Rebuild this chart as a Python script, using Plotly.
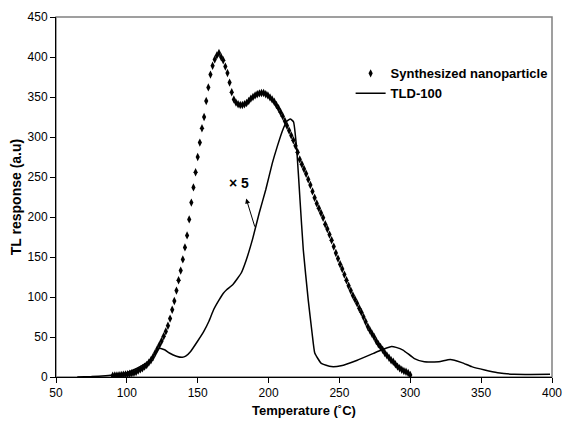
import plotly.graph_objects as go

# ---- data ----
nano_x = [90, 91.5, 93, 94.5, 96, 97.5, 99, 100.5, 102, 103.5, 105, 106.5, 108, 109.5, 111, 112.5,
          114, 115.5, 117, 118.5, 120, 121.5, 123, 124.5, 126, 127.5, 129, 130.5, 132, 133.5, 135,
          136.5, 138, 139.5, 141, 142.5, 144, 145.5, 147, 148.5, 150, 151.5, 153, 154.5, 156, 157.5,
          159, 160.5, 162, 163.5, 165, 166.5, 168, 169.5, 171, 172.5, 174, 175.5, 177, 178.5, 180,
          181.5, 183, 184.5, 186, 187.5, 189, 190.5, 192, 193.5, 195, 196.5, 198, 199.5, 201, 202.5,
          204, 205.5, 207, 208.5, 210, 211.5, 213, 214.5, 216, 217.5, 219, 220.5, 222, 223.5, 225,
          226.5, 228, 229.5, 231, 232.5, 234, 235.5, 237, 238.5, 240, 241.5, 243, 244.5, 246, 247.5,
          249, 250.5, 252, 253.5, 255, 256.5, 258, 259.5, 261, 262.5, 264, 265.5, 267, 268.5, 270,
          271.5, 273, 274.5, 276, 277.5, 279, 280.5, 282, 283.5, 285, 286.5, 288, 289.5, 291, 292.5,
          294, 295.5, 297, 298.5, 300]
nano_y = [1.5, 1.8, 2, 2.2, 2.5, 2.8, 3.1, 3.4, 4, 4.7, 5.3, 6.2, 8, 9.5, 11, 13,
          15, 18, 21, 25, 30, 35, 40, 45, 51, 57, 64, 73, 84, 95, 108,
          121, 133, 147, 162, 177, 197, 218, 237, 256, 275, 293, 311, 325, 345, 362,
          378, 389, 397, 402, 405, 400, 396, 388, 380, 368, 356, 347, 343, 341, 340,
          340, 341, 342.5, 345, 348, 350, 352, 353.5, 354.5, 355, 355, 353.5, 352, 349.5, 347,
          344, 340, 336, 331, 326, 320, 314, 308, 302, 296, 289, 281, 272, 266, 260,
          254, 247, 240, 232, 224, 217, 211, 205, 199, 191, 185, 178, 171, 163, 155,
          148, 141, 135, 128, 121, 114, 108, 102, 97, 92, 86, 81, 75, 69, 63,
          58.5, 54, 50, 45, 41, 37.5, 34, 30, 27, 24, 21, 19, 16, 13, 11,
          9, 7.5, 6.5, 5, 2.5]

tld_x = [65, 75, 85, 90, 95, 100, 105, 110, 115, 120, 123, 126.6, 130, 135, 139.2, 141.5, 145,
         150, 154.2, 158, 161.2, 165, 168.1, 170.4, 175, 180.7, 184.2, 188.8, 193.4, 198, 202.6,
         206.1, 209.6, 213, 215.3, 217.6, 219.9, 222.2, 224.5, 228, 230.7, 232.6, 237.2, 244.2,
         251.1, 262.6, 274.1, 281, 286.8, 290, 294.9, 302.9, 309.9, 320.2, 328.2, 336.4, 343.3,
         352.5, 361.7, 373.2, 385, 398.6]
tld_y = [0, 0.5, 1.5, 2.5, 3.8, 5.4, 9, 13.5, 19, 30, 36, 34, 30, 26, 24.6, 26, 32,
         45, 56.7, 70, 84, 96, 104.6, 109, 116, 130, 146, 173, 205, 234, 267,
         288, 307, 320, 322.5, 319, 284, 221, 159, 96, 55, 30, 17, 13,
         14, 21, 29.6, 34.6, 38, 37, 33.7, 23, 19, 19, 22, 18, 13,
         8.75, 5.4, 3.3, 3.2, 3.3]

x_ticks = [50, 100, 150, 200, 250, 300, 350, 400]
y_ticks = [0, 50, 100, 150, 200, 250, 300, 350, 400, 450]

FONT = "Liberation Sans, Arial, sans-serif"

fig = go.Figure()
fig.add_trace(go.Scatter(
    x=nano_x, y=nano_y, mode="markers", name="<b>Synthesized nanoparticle</b>",
    marker=dict(symbol="diamond-tall", size=6, color="black"),
))
fig.add_trace(go.Scatter(
    x=tld_x, y=tld_y, mode="lines", name="<b>TLD-100</b>",
    line=dict(color="black", width=1.5, shape="spline", smoothing=0.4),
))

fig.add_annotation(x=184.2, y=223, ax=190.6, ay=186, xref="x", yref="y", axref="x", ayref="y",
                   text="", showarrow=True, arrowhead=2, arrowsize=1, arrowwidth=1, arrowcolor="black")
fig.add_annotation(x=179, y=242, xref="x", yref="y", text="<b>× 5</b>", showarrow=False,
                   font=dict(family=FONT, size=14, color="black"))

# plot frame
fig.add_shape(type="rect", xref="paper", yref="paper", x0=0, y0=0, x1=1, y1=1,
              line=dict(color="#808080", width=1.5), layer="below")

fig.update_layout(
    width=572, height=436,
    margin=dict(l=56, r=10, t=17, b=59),
    paper_bgcolor="white", plot_bgcolor="white",
    font=dict(family=FONT, size=12, color="black"),
    showlegend=True,
    legend=dict(x=0.594, y=0.885, xanchor="left", yanchor="top", bgcolor="rgba(0,0,0,0)",
                font=dict(family=FONT, size=13, color="black"), itemwidth=30),
    xaxis=dict(range=[50, 400], tickvals=x_ticks, ticks="outside", ticklen=5, tickcolor="black",
               showline=True, linecolor="black", linewidth=1, showgrid=False, zeroline=False,
               ticklabeloverflow="allow",
               title=dict(text="<b>Temperature (˚C)</b>", font=dict(family=FONT, size=13), standoff=6)),
    yaxis=dict(range=[0, 450], tickvals=y_ticks, ticks="outside", ticklen=5, tickcolor="black",
               showline=True, linecolor="black", linewidth=1, showgrid=False, zeroline=False,
               title=dict(text="<b>TL response (a.u)</b>", font=dict(family=FONT, size=14), standoff=2)),
)

fig.write_html("out.html", config={"displayModeBar": False},
               post_script="document.body.style.margin='0';")
